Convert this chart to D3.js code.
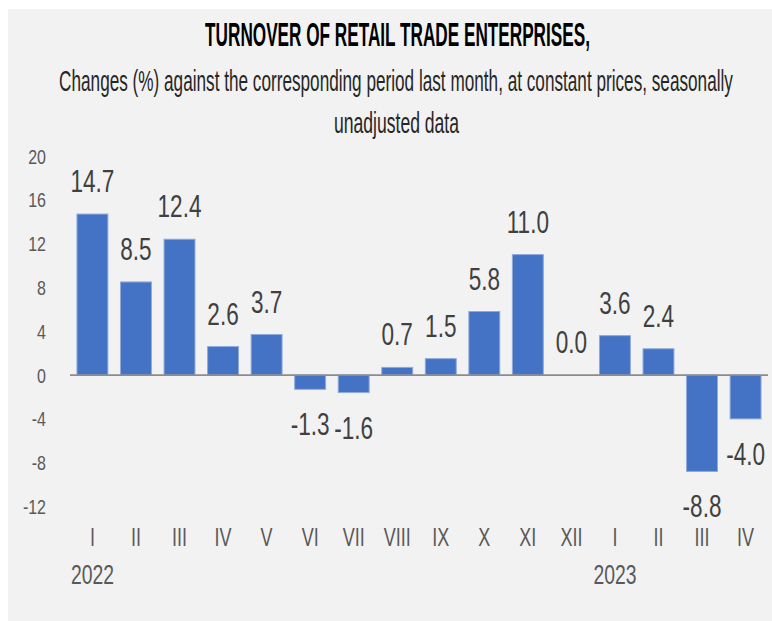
<!DOCTYPE html>
<html>
<head>
<meta charset="utf-8">
<script src="https://cdn.jsdelivr.net/npm/d3@7"></script>
<style>
  html, body { margin: 0; padding: 0; background: #ffffff; }
  svg text { font-family: "Liberation Sans Narrow", "Liberation Sans", "DejaVu Sans Condensed", sans-serif; }
</style>
</head>
<body>
<div id="chart"></div>
<script>
// months and values
var months = ['I', 'II', 'III', 'IV', 'V', 'VI', 'VII', 'VIII', 'IX', 'X', 'XI', 'XII', 'I', 'II', 'III', 'IV'];
var values = [14.7, 8.5, 12.4, 2.6, 3.7, -1.3, -1.6, 0.7, 1.5, 5.8, 11.0, 0.0, 3.6, 2.4, -8.8, -4.0];
var years = [{idx: 0, label: '2022'}, {idx: 12, label: '2023'}];
var yTicks = [-12, -8, -4, 0, 4, 8, 12, 16, 20];

var title = 'TURNOVER OF RETAIL TRADE ENTERPRISES,';
var subtitle1 = 'Changes (%) against the corresponding period last month, at constant prices, seasonally';
var subtitle2 = 'unadjusted data';

var width = 772, height = 621;

var svg = d3.select("#chart")
            .append("svg")
              .attr("width", width)
              .attr("height", height);

// panel
svg.append("rect")
    .attr("x", 8).attr("y", 9)
    .attr("width", width - 8).attr("height", height - 9)
    .attr("fill", "#f2f2f2");

var x = d3.scaleBand()
          .domain(d3.range(months.length))
          .range([70, 768])
          .paddingInner(0.29)
          .paddingOuter(0.16);

var y = d3.scaleLinear()
          .domain([-12, 20])
          .range([506.5, 156]);

// condensed text: scale horizontally around the anchor point
function ctext(g, tx, ty, str, size, sx, anchor, fill) {
  return g.append("text")
    .attr("transform", "translate(" + tx + "," + ty + ") scale(" + sx + ",1)")
    .attr("text-anchor", anchor)
    .style("font-size", size + "px")
    .style("fill", fill)
    .text(str);
}

// centred line squeezed to a measured width
function fitLine(cx, ty, str, size, w, weight, fill) {
  var t = ctext(svg, cx, ty, str, size, 1, "middle", fill).style("font-weight", weight);
  var natural = t.node().getComputedTextLength();
  t.attr("transform", "translate(" + cx + "," + ty + ") scale(" + (w / natural) + ",1)");
  return t;
}

fitLine(397.5, 46, title, 34, 385, "bold", "#000");
fitLine(396, 91, subtitle1, 30, 674, "normal", "#262626");
fitLine(396.5, 133, subtitle2, 30, 125, "normal", "#262626");

// y tick labels
var ticks = svg.append("g");
yTicks.forEach(function(t) {
  ctext(ticks, 46, y(t) + 7.5, t, 20.5, 0.78, "end", "#595959");
});

// bars
svg.selectAll("rect.bar")
    .data(values)
    .enter().append("rect")
      .attr("class", "bar")
      .attr("x", function(d, i) { return x(i); })
      .attr("width", x.bandwidth())
      .attr("y", function(d) { return y(Math.max(0, d)); })
      .attr("height", function(d) { return Math.abs(y(d) - y(0)); })
      .attr("fill", "#4472c4")
      .attr("stroke", "#8eaadb")
      .attr("stroke-width", 1);

// zero line
svg.append("line")
    .attr("x1", 70).attr("x2", 768)
    .attr("y1", y(0)).attr("y2", y(0))
    .attr("stroke", "#8c8c8c")
    .attr("stroke-width", 1.8);

// value labels
var labels = svg.append("g");
values.forEach(function(v, i) {
  var cx = x(i) + x.bandwidth() / 2;
  var ty = v < 0 ? y(v) + 46 : y(v) - 22;
  ctext(labels, cx, ty, v.toFixed(1), 30.5, 0.74, "middle", "#404040");
});

// month labels
var cats = svg.append("g");
months.forEach(function(m, i) {
  ctext(cats, x(i) + x.bandwidth() / 2, 546, m, 25, 0.72, "middle", "#595959");
});

// year labels
years.forEach(function(yr) {
  ctext(cats, x(yr.idx) + x.bandwidth() / 2, 584, yr.label, 28.5, 0.68, "middle", "#595959");
});
</script>
</body>
</html>
